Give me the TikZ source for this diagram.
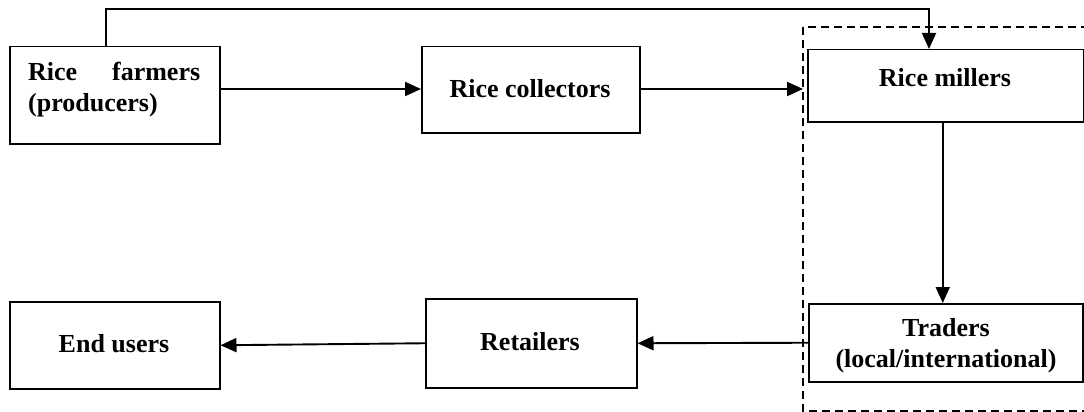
\documentclass[tikz,border=0pt]{standalone}
\usepackage{fontspec}
\setmainfont{Liberation Serif}
\usetikzlibrary{arrows.meta}
\begin{document}
\begin{tikzpicture}[x=1pt,y=-1pt,
  box/.style={draw,line width=1.5pt,inner sep=0pt,anchor=north west},
  lbl/.style={font=\bfseries\fontsize{26}{31}\selectfont,inner sep=0pt,align=center},
  flow/.style={line width=1.9pt,-{Triangle[length=16pt,width=14pt]}}]
\useasboundingbox (0,0) rectangle (1084,412);
\begin{scope}
\clip (0,0) rectangle (1084,412);
% boxes
\node[box,minimum width=210pt,minimum height=97pt] (farmers) at (9,46) {};
\node[box,minimum width=218pt,minimum height=86pt] (collectors) at (421,46) {};
\node[box,minimum width=276pt,minimum height=72pt] (millers) at (807,49) {};
\node[box,minimum width=274pt,minimum height=78pt] (traders) at (808,303) {};
\node[box,minimum width=211pt,minimum height=89pt] (retailers) at (425,298) {};
\node[box,minimum width=210pt,minimum height=87pt] (endusers) at (9,301) {};
% dashed grouping of millers and traders
\draw[line width=1.4pt,dash pattern=on 8pt off 5pt] (803,27) rectangle (1095,411);
% labels
\node[lbl,anchor=west] (farmersT) at (28,90) {\parbox{172pt}{Rice\hfill farmers\\(producers)}};
\node[lbl] (collectorsT) at (530,89) {Rice collectors};
\node[lbl] (millersT) at (945,78) {Rice millers};
\node[lbl] (tradersT) at (946,346) {Traders\\(local/international)};
\node[lbl] (retailersT) at (530,342) {Retailers};
\node[lbl] (endusersT) at (114,344) {End users};
% connectors
\draw[flow] ([xshift=-9pt]farmers.north) |- (929,9) coordinate (bend) -- (bend |- millers.north);
\draw[flow] (farmers.east |- 0,89) -- (collectors.west |- 0,89);
\draw[flow,shorten >=4pt] (collectors.east |- 0,89) -- (millers.west |- 0,89);
\draw[flow] ([xshift=-3pt]millers.south) -- ([xshift=-3pt]millers.south |- traders.north);
\draw[flow] (traders.west) -- (retailers.east);
\draw[flow] (retailers.west) -- (endusers.east);
\end{scope}
\end{tikzpicture}
\end{document}
